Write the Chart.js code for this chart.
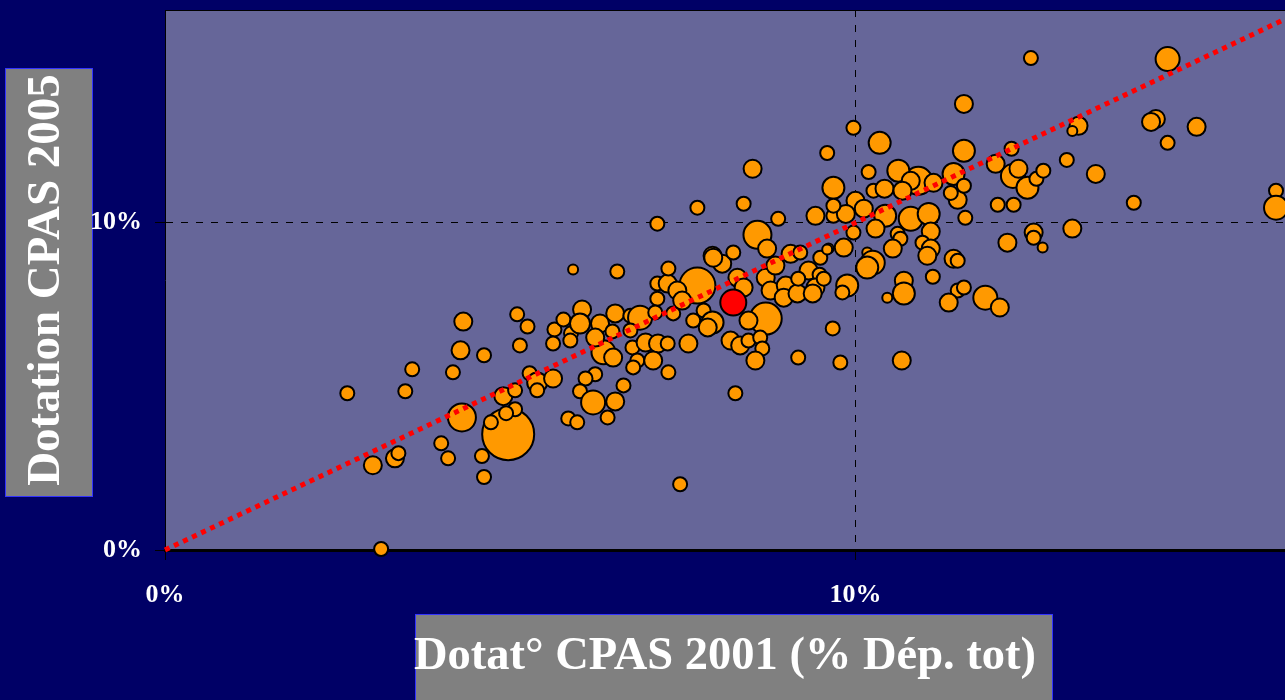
<!DOCTYPE html>
<html>
<head>
<meta charset="utf-8">
<script src="https://cdn.jsdelivr.net/npm/chart.js@4.4.1/dist/chart.umd.min.js"></script>
<style>
html,body{margin:0;padding:0;background:#000066;overflow:hidden}
#wrap{position:relative;width:1285px;height:700px}
canvas{display:block}
</style>
</head>
<body>
<div id="wrap"><canvas id="c" width="1285" height="700"></canvas></div>
<script>
// ---- data (percent values) ----
const bubbleX = [
 4.97,7.71,8.70,8.58,4.30,10.91,
 2.64,3.01,3.13,3.33,3.38,3.48,3.58,4.00,4.10,4.17,
 4.28,4.32,4.62,4.62,4.59,4.72,4.90,5.07,4.94,5.07,
 5.10,5.25,5.14,5.28,5.39,5.39,5.62,5.64,5.62,5.91,
 6.55,5.77,6.04,5.88,6.01,6.30,6.52,6.48,5.87,6.74,
 6.88,6.35,6.49,6.23,6.74,6.77,6.96,7.14,6.84,7.07,
 6.78,7.29,7.28,6.23,6.09,6.01,6.20,6.52,6.64,5.84,
 5.97,6.41,7.13,7.28,7.29,7.13,7.10,7.36,7.42,7.49,
 7.65,7.80,7.93,7.86,7.58,8.19,7.93,8.07,7.71,8.38,
 8.88,9.42,9.68,8.72,8.23,7.94,8.29,8.38,8.70,8.84,
 9.06,8.77,8.99,8.96,9.16,9.32,9.49,9.48,9.42,9.54,
 9.61,8.45,8.33,8.45,8.62,8.65,8.55,8.26,9.17,9.67,
 9.97,10.35,9.59,10.19,9.68,10.62,10.80,11.13,11.42,11.57,
 10.26,10.42,10.68,11.48,11.38,11.57,10.00,9.86,9.68,10.12,
 10.43,10.80,11.06,11.59,10.29,9.97,10.61,11.09,10.65,10.97,
 11.09,10.54,11.04,9.83,9.59,9.20,10.17,10.25,10.17,11.42,
 11.48,11.12,10.70,10.70,10.46,9.88,9.81,9.38,9.17,11.48,
 11.57,11.35,11.88,12.09,12.20,12.58,12.58,12.71,10.67,11.57,
 12.03,12.26,12.28,12.36,12.49,12.62,12.72,12.06,12.29,13.06,
 13.48,13.23,13.14,14.03,13.14,12.54,14.52,14.35,14.28,14.94,
 14.52,16.09,16.09,8.51,7.13,9.78,7.46
];
const bubbleY = [
 3.54,8.08,7.07,9.63,4.05,11.28,
 4.79,2.59,0.03,2.80,2.96,4.85,5.52,3.26,2.80,5.43,
 6.10,6.98,5.95,2.23,2.87,3.90,4.70,4.30,4.18,4.88,
 7.20,6.83,6.25,5.40,5.12,4.88,5.24,6.74,6.31,8.57,
 8.51,7.04,7.35,6.62,6.92,6.92,7.23,6.68,6.40,7.16,
 7.10,6.04,5.88,6.49,6.71,6.19,6.34,6.31,5.79,5.79,
 5.58,5.43,6.31,5.37,5.24,4.85,4.51,4.54,5.03,4.02,
 3.90,4.05,8.14,8.14,8.60,7.68,7.26,7.23,7.93,7.62,
 7.01,7.32,6.95,6.80,6.31,6.40,8.99,8.75,10.46,10.58,
 10.12,10.21,10.21,9.21,9.09,8.93,8.32,8.02,8.32,8.69,
 9.05,7.93,8.08,7.71,7.84,8.54,8.93,8.41,8.02,8.29,
 9.21,7.01,6.25,6.40,6.49,6.16,5.79,4.79,5.88,6.77,
 12.90,12.44,12.13,11.55,11.07,11.59,11.28,11.22,11.49,12.20,
 10.98,11.04,10.98,10.70,10.91,11.13,10.67,10.27,10.52,10.43,
 10.21,10.12,10.27,10.15,9.82,9.70,9.66,9.73,9.51,9.39,
 9.21,9.21,8.99,9.24,9.18,9.09,9.09,8.78,8.63,8.90,
 8.84,8.35,8.23,7.84,7.71,8.08,7.87,7.84,8.29,7.93,
 8.02,7.56,7.71,7.41,9.39,9.70,9.54,9.24,5.79,13.63,
 11.80,12.26,11.43,11.65,11.07,11.34,11.59,10.55,10.55,11.92,
 11.49,12.96,12.80,10.61,9.82,15.03,15.00,13.17,13.08,12.93,
 12.44,10.98,10.46,11.65,9.97,5.73,2.01
];
const bubbleR = [
 26,18,16,14,14,14,
 7,9,7,9,7,7,7,7,7,7,
 9,9,7,7,7,7,9,7,7,7,
 7,7,7,7,10,7,9,7,7,5,
 7,7,9,7,10,9,9,7,7,7,
 12,12,9,9,7,7,9,9,7,9,
 7,7,7,7,7,7,12,9,7,7,
 7,7,7,9,7,7,7,7,9,9,
 7,7,11,9,9,9,9,9,7,7,
 7,9,7,9,7,9,9,9,9,9,
 9,9,9,9,9,9,7,7,9,7,
 5,9,9,7,7,7,9,7,7,7,
 7,11,7,7,11,11,9,9,11,11,
 7,9,9,9,7,7,9,9,7,9,
 11,12,11,7,9,7,7,9,7,7,
 9,9,9,9,5,7,5,12,11,9,
 7,7,9,11,5,11,7,9,7,7,
 7,9,12,9,9,9,7,5,9,9,
 9,7,12,9,11,7,7,7,7,7,
 9,9,5,7,9,7,12,9,9,9,
 7,7,12,9,7,7,7
];
// highlighted commune
const redX = [8.23];
const redY = [7.56];
const redR = [13];
// trend line end points
const trendX = [0, 16.22];
const trendY = [0, 16.22];
// axes
const xTickValues = [0, 10];
const yTickValues = [0, 10];
const xTitle = 'Dotat° CPAS 2001 (% Dép. tot)';
const yTitle = 'Dotation CPAS 2005';

// ---- rendering ----
const SERIF = '"Liberation Serif", "Times New Roman", Times, serif';

const bgPlugin = {
  id: 'bgPlugin',
  beforeDraw(chart) {
    const {ctx, chartArea: a} = chart;
    ctx.save();
    ctx.fillStyle = '#000066';
    ctx.fillRect(0, 0, chart.width, chart.height);
    ctx.fillStyle = '#666699';
    ctx.fillRect(a.left, a.top, a.right - a.left, a.bottom - a.top);
    // axis title boxes
    ctx.fillStyle = '#808080';
    ctx.strokeStyle = '#3333ff';
    ctx.lineWidth = 1;
    ctx.fillRect(5, 68, 88, 429);
    ctx.strokeRect(5.5, 68.5, 87, 428);
    ctx.fillRect(415, 614, 638, 100);
    ctx.strokeRect(415.5, 614.5, 637, 100);
    ctx.restore();
  },
  afterDraw(chart) {
    const {ctx, chartArea: a} = chart;
    ctx.save();
    ctx.strokeStyle = '#000000';
    ctx.lineWidth = 1;
    ctx.beginPath();
    ctx.moveTo(a.left, a.top + 0.5);
    ctx.lineTo(a.right, a.top + 0.5);
    ctx.stroke();
    ctx.restore();
  }
};

const gridColor = (c) => (c.tick && c.tick.value === 0) ? 'rgba(0,0,0,0)' : '#000000';
const noPad = (s) => { s.paddingTop = 0; s.paddingBottom = 0; s.paddingLeft = 0; s.paddingRight = 0; };

new Chart(document.getElementById('c'), {
  type: 'bubble',
  data: {
    datasets: [
      {
        type: 'line',
        data: trendX.map((x, i) => ({x: x, y: trendY[i]})),
        borderColor: '#ff0000',
        borderWidth: 5,
        borderDash: [5, 5],
        borderCapStyle: 'butt',
        pointRadius: 0,
        fill: false,
        order: 0,
        clip: false
      },
      {
        data: redX.map((x, i) => ({x: x, y: redY[i], r: redR[i]})),
        backgroundColor: '#ff0000',
        borderColor: '#000000',
        borderWidth: 2,
        order: 1,
        clip: false
      },
      {
        data: bubbleX.map((x, i) => ({x: x, y: bubbleY[i], r: bubbleR[i]})),
        backgroundColor: '#ff9900',
        borderColor: '#000000',
        borderWidth: 2,
        order: 2,
        clip: false
      }
    ]
  },
  options: {
    responsive: false,
    animation: false,
    devicePixelRatio: 1,
    layout: {autoPadding: false, padding: {top: 10, left: 0, right: 0, bottom: 0}},
    plugins: {legend: {display: false}, tooltip: {enabled: false}},
    scales: {
      x: {
        type: 'linear',
        min: 0,
        max: 16.22,
        afterBuildTicks: (s) => { s.ticks = xTickValues.map(v => ({value: v})); },
        afterFit: (s) => { s.height = 150; noPad(s); },
        ticks: {
          color: '#ffffff',
          font: {family: SERIF, size: 26, weight: 'bold'},
          padding: 20,
          maxRotation: 0,
          autoSkip: false,
          callback: (v) => v + '%'
        },
        grid: {color: gridColor, lineWidth: 1, tickColor: '#000000', tickLength: 10},
        border: {display: true, color: '#000000', width: 3, dash: [7, 8]},
        title: {
          display: true,
          text: xTitle,
          color: '#ffffff',
          font: {family: SERIF, size: 46.5, weight: 'bold'},
          padding: {top: 0, bottom: 15}
        }
      },
      y: {
        type: 'linear',
        min: 0,
        max: 16.5,
        afterBuildTicks: (s) => { s.ticks = yTickValues.map(v => ({value: v})); },
        afterFit: (s) => { s.width = 165; noPad(s); },
        ticks: {
          color: '#ffffff',
          font: {family: SERIF, size: 26, weight: 'bold'},
          padding: 13,
          autoSkip: false,
          callback: (v) => v + '%'
        },
        grid: {color: gridColor, lineWidth: 1, tickColor: '#000000', tickLength: 10},
        border: {display: true, color: '#000000', width: 1, dash: [7, 8]},
        title: {
          display: true,
          text: yTitle,
          color: '#ffffff',
          font: {family: SERIF, size: 47, weight: 'bold'},
          padding: {top: 19, bottom: 0}
        }
      }
    }
  },
  plugins: [bgPlugin]
});
</script>
</body>
</html>
